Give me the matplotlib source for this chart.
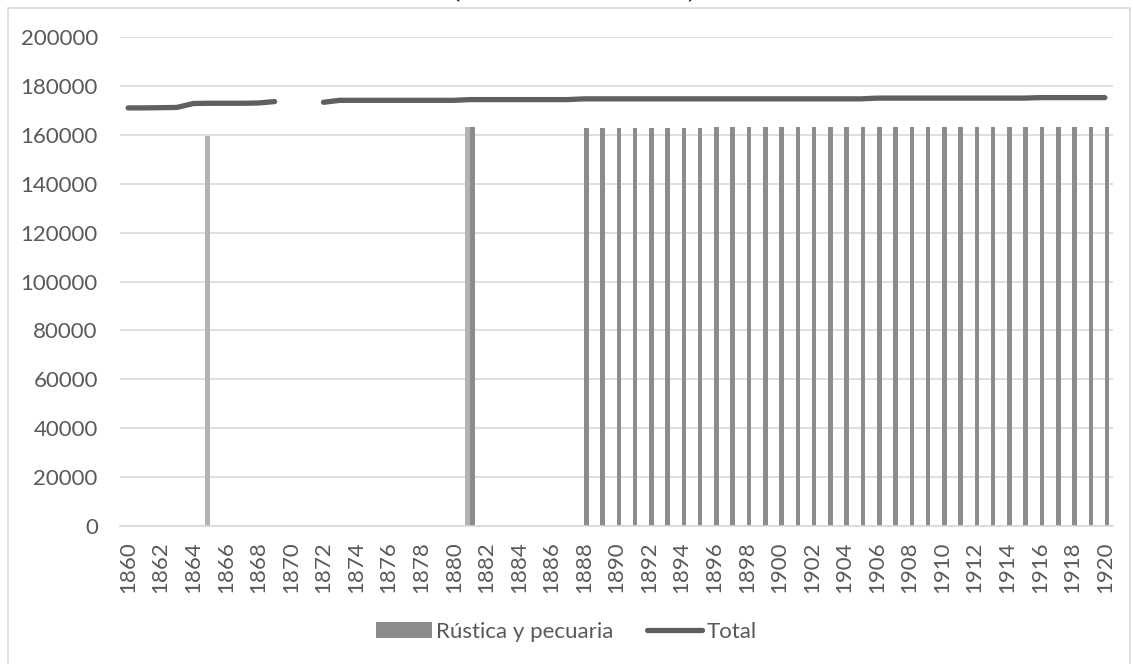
import numpy as np
import matplotlib
matplotlib.use('Agg')
import matplotlib.pyplot as plt
from matplotlib.patches import Rectangle

# Data
years = list(range(1860, 1921))

# hidden first bar series (light grey, not in legend)
light_years = [1865, 1881]
light_values = [159500, 163000]

# "Rústica y pecuaria"
rustica_years = [1881] + list(range(1888, 1921))
rustica_values = [163000] + [162900] * 8 + [163300] * 25

# "Total" line (gap in 1870-1871)
total_values = ([171000, 171000, 171100, 171200, 172800, 172900, 172900, 172900,
                 173000, 173600, np.nan, np.nan, 173300]
                + [174100] * 8      # 1873-1880
                + [174400] * 7      # 1881-1887
                + [174700] * 18     # 1888-1905
                + [175000] * 10     # 1906-1915
                + [175200] * 5)     # 1916-1920

yticks = list(range(0, 200001, 20000))

plt.rcParams['font.family'] = ['Lato', 'DejaVu Sans']

W, H = 1133, 664
fig = plt.figure(figsize=(W / 100, H / 100), dpi=100)
ax = fig.add_axes([120 / W, (H - 526) / H, (1113 - 120) / W, (526 - 37) / H])

idx = {y: i for i, y in enumerate(years)}
bw = 0.28
ax.bar([idx[y] - bw / 2 for y in light_years], light_values, width=bw,
       color='#b3b3b3', label='_nolegend_', zorder=2)
bars = ax.bar([idx[y] + bw / 2 for y in rustica_years], rustica_values, width=bw,
              color='#8c8c8c', label='Rústica y pecuaria', zorder=2)
line, = ax.plot(range(len(years)), total_values, color='#5f5f5f', linewidth=3.8,
                solid_capstyle='round', solid_joinstyle='round', label='Total', zorder=3)

ax.set_xlim(-0.5, len(years) - 0.5)
ax.set_ylim(0, 200000)
ax.set_yticks(yticks)
ax.set_yticklabels([str(v) for v in yticks])
ax.set_xticks(range(0, len(years), 2))
ax.set_xticklabels([str(y) for y in years[::2]], rotation=90)
ax.tick_params(axis='both', length=0, labelsize=16, colors='#595959')
ax.tick_params(axis='y', pad=16)
ax.tick_params(axis='x', pad=11)

ax.grid(axis='y', color='#d9d9d9', linewidth=1.2, zorder=0)
ax.set_axisbelow(True)
for s in ['top', 'left', 'right']:
    ax.spines[s].set_visible(False)
ax.spines['bottom'].set_color('#d9d9d9')
ax.spines['bottom'].set_linewidth(1.2)

fig.legend([bars, line], ['Rústica y pecuaria', 'Total'], loc='center',
           bbox_to_anchor=(0.5, (H - 632) / H), ncol=2, frameon=False,
           fontsize=16, handlelength=2.5, handletextpad=0.2, columnspacing=1.5,
           labelcolor='#595959')

# outer chart border
fig.patches.append(Rectangle((8 / W, -0.05), (1130 - 8) / W, 1.05 - 8 / H,
                             transform=fig.transFigure, fill=False,
                             edgecolor='#d9d9d9', linewidth=1.2))

# bottom tips of the cut-off title above the chart
fig.text(455 / W, 1 + 4 / H, '(', fontsize=20, family='Liberation Serif',
         ha='center', va='baseline')
fig.text(692 / W, 1 + 4 / H, ')', fontsize=20, family='Liberation Serif',
         ha='center', va='baseline')

plt.savefig('out.png', dpi=100)
plt.close()
